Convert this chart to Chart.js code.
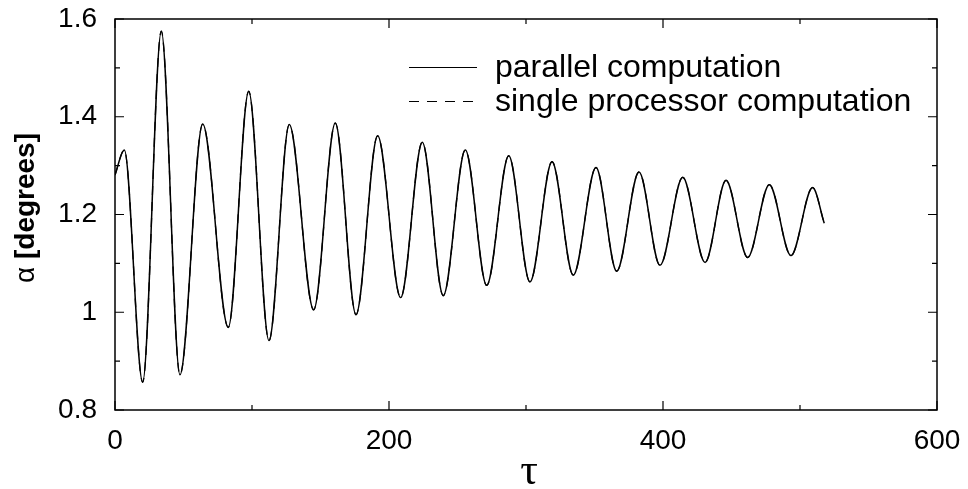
<!DOCTYPE html>
<html>
<head>
<meta charset="utf-8">
<title>alpha vs tau</title>
<script src="https://cdn.jsdelivr.net/npm/chart.js@4/dist/chart.umd.min.js"></script>
<style>
  html, body { margin: 0; padding: 0; background: #fff; }
  #wrap { width: 968px; height: 489px; }
</style>
</head>
<body>
<div id="wrap"><canvas id="alphaChart" width="968" height="489"></canvas></div>
<script>
// time axis (tau) and pitch angle alpha at the turning points of the oscillation
const tauValues = [
  0, 6.8, 20.2, 33.8, 47.4, 64.0, 82.7, 97.6, 112.4, 127.2,
  145.0, 160.8, 175.9, 191.7, 208.5, 224.3, 239.6, 255.7, 271.3, 287.4,
  302.9, 319.0, 334.5, 351.1, 366.2, 382.5, 397.8, 414.4, 430.7, 446.0,
  461.8, 477.6, 493.4, 509.2, 517.7
];
const alphaParallel = [
  1.281, 1.332, 0.857, 1.575, 0.872, 1.385, 0.969, 1.452, 0.942, 1.384,
  1.005, 1.387, 0.995, 1.361, 1.030, 1.348, 1.034, 1.332, 1.055, 1.320,
  1.062, 1.308, 1.076, 1.296, 1.084, 1.287, 1.096, 1.276, 1.102, 1.270,
  1.112, 1.261, 1.116, 1.255, 1.182
];
// the single processor run lies on top of the parallel one
const alphaSingle = [
  1.281, 1.332, 0.857, 1.575, 0.872, 1.385, 0.969, 1.452, 0.942, 1.384,
  1.005, 1.387, 0.995, 1.361, 1.030, 1.348, 1.034, 1.332, 1.055, 1.320,
  1.062, 1.308, 1.076, 1.296, 1.084, 1.287, 1.096, 1.276, 1.102, 1.270,
  1.112, 1.261, 1.116, 1.255, 1.182
];

const xTicks = [0, 200, 400, 600];
const xMinorTicks = [100, 300, 500];
const yTicks = [0.8, 1, 1.2, 1.4, 1.6];
const yMinorTicks = [0.9, 1.1, 1.3, 1.5];

const seriesNames = ["parallel computation", "single processor computation"];

const FONT = "'Liberation Sans', Arial, Helvetica, sans-serif";

function toPoints(xs, ys) {
  return xs.map((x, i) => ({ x: x, y: ys[i] }));
}

// box around the plot with inward ticks on all four sides
const frameTicks = {
  id: "frameTicks",
  afterDraw(chart) {
    const { ctx, chartArea: a, scales } = chart;
    ctx.save();
    ctx.strokeStyle = "#000";
    ctx.lineWidth = 1.5;
    ctx.strokeRect(a.left, a.top, a.right - a.left, a.bottom - a.top);

    ctx.lineWidth = 1.2;
    ctx.beginPath();
    const xMark = (v, len) => {
      const px = scales.x.getPixelForValue(v);
      ctx.moveTo(px, a.bottom); ctx.lineTo(px, a.bottom - len);
      ctx.moveTo(px, a.top); ctx.lineTo(px, a.top + len);
    };
    const yMark = (v, len) => {
      const py = scales.y.getPixelForValue(v);
      ctx.moveTo(a.left, py); ctx.lineTo(a.left + len, py);
      ctx.moveTo(a.right, py); ctx.lineTo(a.right - len, py);
    };
    xTicks.forEach(v => xMark(v, 9));
    xMinorTicks.forEach(v => xMark(v, 5));
    yTicks.forEach(v => yMark(v, 9));
    yMinorTicks.forEach(v => yMark(v, 5));
    ctx.stroke();
    ctx.restore();
  }
};

// axis titles and the key in the upper right
const titlesLegend = {
  id: "titlesLegend",
  afterDraw(chart) {
    const { ctx, chartArea: a } = chart;
    ctx.save();
    ctx.fillStyle = "#000";

    // x title
    ctx.font = "44px 'Liberation Serif', 'DejaVu Serif', serif";
    ctx.textAlign = "center";
    ctx.textBaseline = "alphabetic";
    ctx.fillText("τ", (a.left + a.right) / 2 + 3, 484);

    // y title: greek letter upright, unit text bold
    const part1 = "α ";
    const part2 = "[degrees]";
    const f1 = "28px " + FONT;
    const f2 = "bold 28px " + FONT;
    ctx.font = f1;
    const w1 = ctx.measureText(part1).width;
    ctx.font = f2;
    const w2 = ctx.measureText(part2).width;
    ctx.translate(34, 208);
    ctx.rotate(-Math.PI / 2);
    ctx.textAlign = "left";
    const start = -(w1 + w2) / 2;
    ctx.font = f1;
    ctx.fillText(part1, start, 0);
    ctx.font = f2;
    ctx.fillText(part2, start + w1, 0);
    ctx.setTransform(1, 0, 0, 1, 0, 0);

    // key
    ctx.strokeStyle = "#000";
    ctx.lineWidth = 1.2;
    const rows = [67.5, 101.5];
    rows.forEach((y, i) => {
      ctx.setLineDash(i === 0 ? [] : [10, 8]);
      ctx.beginPath();
      ctx.moveTo(409, y);
      ctx.lineTo(477, y);
      ctx.stroke();
      ctx.font = "32px " + FONT;
      ctx.textAlign = "left";
      ctx.textBaseline = "middle";
      ctx.fillText(seriesNames[i], 495, y + 1);
    });
    ctx.restore();
  }
};

// keep the plot box fixed: no extra room for labels overhanging the ends
function noOverhang(s) {
  s.paddingTop = 0;
  s.paddingBottom = 0;
  s.paddingLeft = 0;
  s.paddingRight = 0;
}

new Chart(document.getElementById("alphaChart"), {
  type: "line",
  data: {
    datasets: [
      {
        label: seriesNames[0],
        data: toPoints(tauValues, alphaParallel),
        borderColor: "#000",
        borderWidth: 1.5,
        pointRadius: 0,
        fill: false,
        cubicInterpolationMode: "monotone"
      },
      {
        label: seriesNames[1],
        data: toPoints(tauValues, alphaSingle),
        borderColor: "#000",
        borderWidth: 1.3,
        borderDash: [9, 7],
        pointRadius: 0,
        fill: false,
        cubicInterpolationMode: "monotone"
      }
    ]
  },
  options: {
    responsive: false,
    devicePixelRatio: 1,
    animation: false,
    layout: { padding: { top: 19, right: 31, left: 0, bottom: 0 } },
    plugins: {
      legend: { display: false },
      tooltip: { enabled: false }
    },
    scales: {
      x: {
        type: "linear",
        min: 0,
        max: 600,
        grid: { display: false, drawTicks: false, tickLength: 0 },
        border: { display: false },
        afterBuildTicks: s => { s.ticks = xTicks.map(v => ({ value: v })); },
        afterFit: s => { s.height = 79; noOverhang(s); },
        ticks: {
          padding: 14,
          maxRotation: 0,
          color: "#000",
          font: { family: FONT, size: 28 }
        }
      },
      y: {
        min: 0.8,
        max: 1.6,
        grid: { display: false, drawTicks: false, tickLength: 0 },
        border: { display: false },
        afterBuildTicks: s => { s.ticks = yTicks.map(v => ({ value: v })); },
        afterFit: s => { s.width = 115; noOverhang(s); },
        ticks: {
          padding: 18,
          color: "#000",
          font: { family: FONT, size: 28 },
          callback: v => String(Number(v.toFixed(1)))
        }
      }
    }
  },
  plugins: [frameTicks, titlesLegend]
});
</script>
</body>
</html>
